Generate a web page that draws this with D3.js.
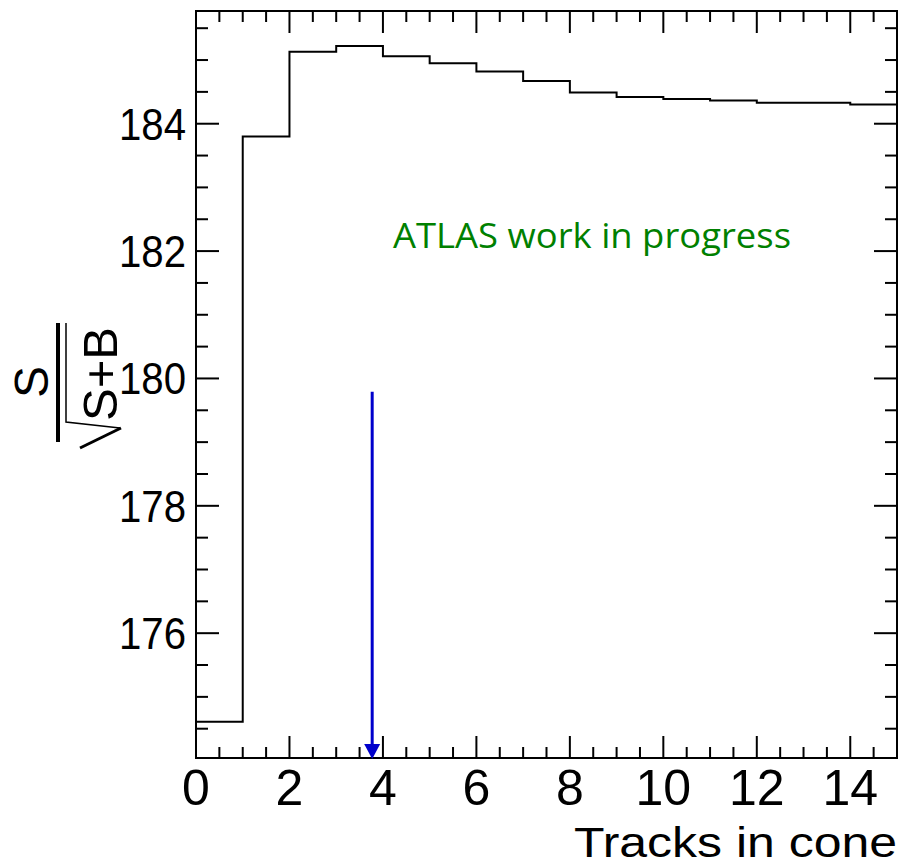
<!DOCTYPE html>
<html lang="en">
<head>
  <meta charset="utf-8" />
  <title>S over sqrt(S+B) vs tracks in cone</title>
  <style>
    body { margin: 0; background: #ffffff; }
    svg { display: block; }
    .lbl { font-family: "Liberation Sans", Arial, sans-serif; fill: #000; }
  </style>
</head>
<body>
  <svg width="901" height="867"></svg>

  <script src="https://d3js.org/d3.v7.min.js"></script>
  <script>
    // bin edges and contents of the histogram
    const binEdges = [0, 1, 2, 3, 4, 5, 6, 7, 8, 9, 10, 11, 12, 13, 14, 15];
    const binValues = [174.61, 183.80, 185.13, 185.22, 185.06, 184.95, 184.82, 184.67,
                       184.49, 184.42, 184.39, 184.365, 184.33, 184.33, 184.30];

    const xMajorTicks = [0, 2, 4, 6, 8, 10, 12, 14];
    const yMajorTicks = [176, 178, 180, 182, 184];

    // chosen cut, drawn as a downward arrow
    const cutX = 3.77;
    const cutTop = 179.79;

    const xDomain = [0, 15];
    const yDomain = [174.04, 185.77];

    const frame = {left: 196, right: 897, top: 11, bottom: 758};

    const svg = d3.select("svg");

    const x = d3.scaleLinear().domain(xDomain).range([frame.left, frame.right]);
    const y = d3.scaleLinear().domain(yDomain).range([frame.bottom, frame.top]);

    const xMinor = d3.range(0, 15.01, 0.5).filter(v => !xMajorTicks.includes(v));
    const yMinor = d3.range(174.5, yDomain[1], 0.5).filter(v => !yMajorTicks.includes(v));

    // ticks on all four sides
    const g = svg.append("g").attr("stroke", "#000").attr("stroke-width", 2);
    function vTicks(vals, len) {
      vals.forEach(v => {
        g.append("line").attr("x1", x(v)).attr("x2", x(v))
          .attr("y1", frame.bottom).attr("y2", frame.bottom - len);
        g.append("line").attr("x1", x(v)).attr("x2", x(v))
          .attr("y1", frame.top).attr("y2", frame.top + len);
      });
    }
    function hTicks(vals, len) {
      vals.forEach(v => {
        g.append("line").attr("y1", y(v)).attr("y2", y(v))
          .attr("x1", frame.left).attr("x2", frame.left + len);
        g.append("line").attr("y1", y(v)).attr("y2", y(v))
          .attr("x1", frame.right).attr("x2", frame.right - len);
      });
    }
    vTicks(xMajorTicks, 22);
    vTicks(xMinor, 11);
    hTicks(yMajorTicks, 23);
    hTicks(yMinor, 12);

    // histogram as a step line
    const pts = [];
    binValues.forEach((v, i) => {
      pts.push([binEdges[i], v]);
      pts.push([binEdges[i + 1], v]);
    });
    svg.append("path")
      .attr("d", d3.line().x(d => x(d[0])).y(d => y(d[1]))(pts))
      .attr("fill", "none")
      .attr("stroke", "#000")
      .attr("stroke-width", 2);

    // frame
    svg.append("rect")
      .attr("x", frame.left).attr("y", frame.top)
      .attr("width", frame.right - frame.left)
      .attr("height", frame.bottom - frame.top)
      .attr("fill", "none").attr("stroke", "#000").attr("stroke-width", 2);

    // tick labels
    svg.append("g").selectAll("text").data(yMajorTicks).join("text")
      .attr("class", "lbl")
      .attr("x", 186).attr("y", d => y(d) + 16)
      .attr("text-anchor", "end")
      .attr("font-size", 45)
      .attr("textLength", 67).attr("lengthAdjust", "spacingAndGlyphs")
      .text(d => d);

    svg.append("g").selectAll("text").data(xMajorTicks).join("text")
      .attr("class", "lbl")
      .attr("x", d => x(d)).attr("y", 805)
      .attr("text-anchor", "middle")
      .attr("font-size", 50)
      .text(d => d);

    // axis titles
    svg.append("text").attr("class", "lbl")
      .attr("x", 897).attr("y", 857)
      .attr("text-anchor", "end")
      .attr("font-size", 43)
      .attr("textLength", 323).attr("lengthAdjust", "spacingAndGlyphs")
      .text("Tracks in cone");

    // y title: S / sqrt(S+B), rotated
    svg.append("text").attr("class", "lbl")
      .attr("transform", "translate(48,382) rotate(-90)")
      .attr("text-anchor", "middle").attr("font-size", 48)
      .text("S");
    svg.append("line")
      .attr("x1", 58).attr("x2", 58).attr("y1", 323).attr("y2", 442)
      .attr("stroke", "#000").attr("stroke-width", 4);
    svg.append("text").attr("class", "lbl")
      .attr("transform", "translate(117,374) rotate(-90)")
      .attr("text-anchor", "middle").attr("font-size", 49)
      .text("S+B");
    svg.append("path")
      .attr("d", "M66,323 L66,422 L120,428")
      .attr("fill", "none").attr("stroke", "#000").attr("stroke-width", 1.5);
    svg.append("path")
      .attr("d", "M121,428 L80,448")
      .attr("fill", "none").attr("stroke", "#000").attr("stroke-width", 3);

    // ATLAS label
    svg.append("text")
      .attr("x", 393).attr("y", 248)
      .attr("font-family", "'Open Sans', sans-serif")
      .attr("font-size", 35)
      .attr("fill", "#008000")
      .attr("textLength", 398).attr("lengthAdjust", "spacingAndGlyphs")
      .text("ATLAS work in progress");

    // arrow at the cut value
    const ax = x(cutX);
    svg.append("line")
      .attr("x1", ax).attr("x2", ax)
      .attr("y1", y(cutTop)).attr("y2", frame.bottom - 12)
      .attr("stroke", "#0000cc").attr("stroke-width", 3);
    svg.append("path")
      .attr("d", `M${ax - 8},${frame.bottom - 14} L${ax + 8},${frame.bottom - 14} L${ax},${frame.bottom + 1} Z`)
      .attr("fill", "#0000cc");
  </script>
</body>
</html>
